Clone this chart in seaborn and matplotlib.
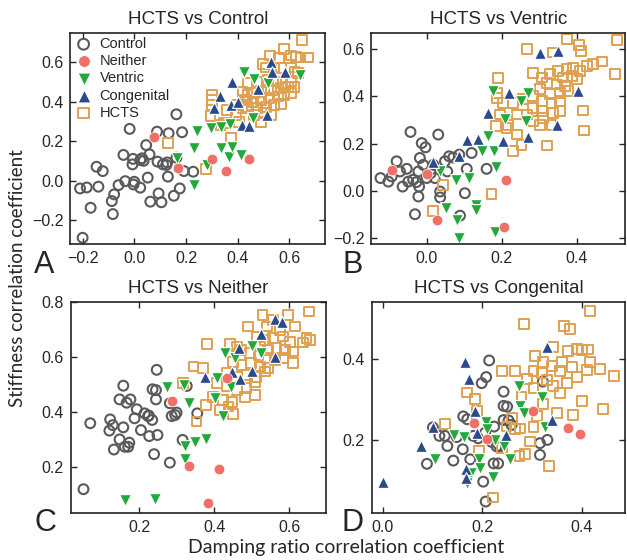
import numpy as np
import pandas as pd
import seaborn as sns
import matplotlib.pyplot as plt

# ---- panel A: HCTS vs Control ----
a_control_x = [-0.21, -0.184, -0.139, -0.169, -0.146, -0.122, -0.087, -0.078, -0.083, -0.2, -0.061, -0.042,
               -0.035, -0.003, 0.0, -0.007, 0.023, -0.005, 0.03, 0.036, 0.046, 0.059, 0.052, 0.062, 0.09, 0.094,
               0.105, 0.124, 0.13, 0.127, 0.153, 0.176, 0.163, 0.185, 0.133, 0.088, -0.018, 0.163, 0.228, 0.192,
               0.111, 0.023]
a_control_y = [-0.04, -0.035, -0.031, -0.138, 0.07, 0.048, -0.104, -0.07, -0.17, -0.29, -0.023, 0.13,
               -0.003, -0.02, -0.006, 0.082, -0.036, 0.11, 0.113, 0.1, 0.18, 0.133, 0.015, -0.107, 0.096, -0.065,
               -0.11, 0.079, 0.02, 0.092, -0.077, -0.04, 0.336, 0.245, 0.24, 0.248, 0.262, 0.116, 0.045, 0.048,
               0.082, 0.104]
a_neither_x = [0.078, 0.168, 0.302, 0.356, 0.445]
a_neither_y = [0.223, 0.065, 0.108, 0.050, 0.109]
a_ventric_x = [0.419, 0.643, 0.241, 0.295, 0.334, 0.370, 0.231, 0.231, 0.166, 0.283, 0.334, 0.367, 0.380,
               0.412, 0.458, 0.464, 0.516, 0.423]
a_ventric_y = [0.549, 0.536, 0.251, 0.265, 0.273, 0.285, 0.167, -0.023, 0.113, 0.079, 0.163, 0.121, 0.172,
               0.130, 0.319, 0.515, 0.493, 0.553]
a_congen_x = [0.529, 0.583, 0.532, 0.380, 0.332, 0.308, 0.376, 0.402, 0.477, 0.415, 0.445, 0.512]
a_congen_y = [0.603, 0.553, 0.549, 0.502, 0.431, 0.367, 0.383, 0.397, 0.465, 0.282, 0.279, 0.333]
a_hcts_x = [0.648, 0.578, 0.526, 0.561, 0.607, 0.626, 0.643, 0.672, 0.497, 0.509, 0.542, 0.568, 0.607, 0.620,
            0.635, 0.438, 0.477, 0.516, 0.548, 0.574, 0.607, 0.419, 0.438, 0.464, 0.490, 0.516, 0.542, 0.568,
            0.594, 0.620, 0.428, 0.458, 0.490, 0.522, 0.555, 0.581, 0.607, 0.438, 0.477, 0.509, 0.542, 0.568,
            0.464, 0.503, 0.529, 0.490, 0.302, 0.302, 0.295, 0.358, 0.393, 0.406, 0.347, 0.373, 0.276, 0.129,
            0.334, 0.399, 0.419, 0.302]
a_hcts_y = [0.713, 0.668, 0.634, 0.620, 0.634, 0.625, 0.624, 0.624, 0.590, 0.573, 0.573, 0.570, 0.573, 0.553,
            0.544, 0.493, 0.502, 0.510, 0.502, 0.493, 0.502, 0.451, 0.434, 0.443, 0.451, 0.460, 0.460, 0.468,
            0.476, 0.476, 0.409, 0.400, 0.409, 0.417, 0.426, 0.434, 0.443, 0.375, 0.367, 0.375, 0.383, 0.387,
            0.333, 0.341, 0.333, 0.299, 0.434, 0.383, 0.329, 0.358, 0.333, 0.299, 0.290, 0.214, 0.059, 0.189,
            0.282, 0.383, 0.367, 0.409]

# ---- panel B: HCTS vs Ventric ----
b_control_x = [-0.123, -0.102, -0.08, -0.064, -0.053, -0.043, -0.049, -0.036, -0.027, -0.022, -0.031, -0.018,
               -0.013, -0.003, 0.031, -0.02, 0.0, 0.011, 0.022, 0.036, 0.036, 0.049, 0.06, 0.071, 0.087, 0.102,
               0.089, 0.107, 0.12, 0.16, -0.009, 0.018, 0.055, -0.093, -0.071, -0.022]
b_control_y = [0.055, 0.04, 0.126, 0.019, 0.094, 0.25, 0.04, 0.048, 0.038, -0.023, -0.098, 0.14,
               0.203, 0.185, 0.239, 0.019, 0.055, 0.076, 0.055, -0.002, -0.027, 0.126, 0.147, 0.142, 0.154, -0.009,
               -0.104, 0.094, 0.161, 0.094, 0.111, 0.111, 0.083, 0.062, 0.083, 0.083]
b_neither_x = [-0.092, 0.002, 0.028, 0.212, 0.206]
b_neither_y = [0.09, 0.072, -0.122, 0.045, -0.151]
b_ventric_x = [0.178, 0.271, 0.253, 0.209, 0.265, 0.164, 0.149, 0.18, 0.185, 0.036, 0.078, 0.114, 0.052,
               0.08, 0.133, 0.087, 0.182, 0.132]
b_ventric_y = [0.423, 0.416, 0.383, 0.303, 0.298, 0.232, 0.168, 0.168, 0.1, 0.083, 0.048, 0.055, -0.073,
               -0.122, -0.059, -0.197, -0.172, -0.08]
b_congen_x = [0.302, 0.351, 0.22, 0.404, 0.164, 0.347, 0.271, 0.203, 0.108, 0.138, 0.087, 0.018]
b_congen_y = [0.586, 0.593, 0.416, 0.423, 0.331, 0.278, 0.227, 0.21, 0.218, 0.222, 0.147, 0.123]
b_hcts_x = [0.375, 0.267, 0.336, 0.407, 0.411, 0.507, 0.191, 0.467, 0.444, 0.502, 0.418, 0.420, 0.322, 0.231,
            0.253, 0.173, 0.043, 0.016, 0.185, 0.213, 0.284, 0.307, 0.329, 0.351, 0.373, 0.391, 0.409, 0.427,
            0.364, 0.387, 0.400, 0.320, 0.347, 0.369, 0.302, 0.329, 0.356, 0.378, 0.284, 0.307, 0.333, 0.356,
            0.187, 0.204, 0.231, 0.258, 0.284, 0.307, 0.338, 0.356, 0.240, 0.267, 0.196, 0.218, 0.284, 0.311,
            0.240, 0.333, 0.302, 0.187]
b_hcts_y = [0.642, 0.600, 0.586, 0.618, 0.593, 0.638, 0.477, 0.548, 0.539, 0.494, 0.341, 0.256, 0.193, 0.168,
            0.196, -0.013, 0.026, -0.084, 0.274, 0.267, 0.501, 0.480, 0.494, 0.508, 0.515, 0.522, 0.508, 0.529,
            0.480, 0.487, 0.473, 0.458, 0.451, 0.444, 0.430, 0.409, 0.416, 0.423, 0.402, 0.380, 0.373, 0.380,
            0.416, 0.373, 0.373, 0.388, 0.352, 0.338, 0.331, 0.338, 0.324, 0.324, 0.324, 0.281, 0.295, 0.310,
            0.239, 0.281, 0.281, 0.394]

# ---- panel C: HCTS vs Neither ----
c_control_x = [0.052, 0.07, 0.123, 0.13, 0.121, 0.133, 0.148, 0.158, 0.148, 0.167, 0.177, 0.158, 0.162,
               0.171, 0.174, 0.188, 0.194, 0.205, 0.215, 0.224, 0.227, 0.236, 0.245, 0.245, 0.247, 0.249,
               0.24, 0.226, 0.235, 0.282, 0.287, 0.296, 0.3, 0.316, 0.355, 0.327, 0.282]
c_control_y = [0.118, 0.359, 0.373, 0.352, 0.332, 0.263, 0.3, 0.344, 0.446, 0.434, 0.446, 0.496, 0.273,
               0.273, 0.288, 0.377, 0.41, 0.334, 0.395, 0.385, 0.312, 0.483, 0.48, 0.446, 0.554, 0.316,
               0.246, 0.387, 0.371, 0.215, 0.385, 0.389, 0.398, 0.298, 0.395, 0.495, 0.432]
c_neither_x = [0.289, 0.334, 0.414, 0.384, 0.433]
c_neither_y = [0.441, 0.202, 0.19, 0.068, 0.523]
c_ventric_x = [0.163, 0.243, 0.274, 0.32, 0.334, 0.322, 0.349, 0.378, 0.323, 0.402, 0.423, 0.407, 0.429,
               0.502, 0.526, 0.455, 0.446]
c_ventric_y = [0.08, 0.084, 0.49, 0.499, 0.434, 0.276, 0.291, 0.3, 0.227, 0.45, 0.385, 0.523, 0.615,
               0.641, 0.615, 0.596, 0.49]
c_congen_x = [0.562, 0.58, 0.526, 0.467, 0.562, 0.502, 0.468, 0.448, 0.376]
c_congen_y = [0.739, 0.73, 0.685, 0.633, 0.602, 0.551, 0.52, 0.547, 0.527]
c_hcts_x = [0.529, 0.597, 0.653, 0.491, 0.380, 0.345, 0.371, 0.316, 0.378, 0.353, 0.451, 0.509, 0.611, 0.637,
            0.615, 0.557, 0.575, 0.540, 0.513, 0.535, 0.557, 0.584, 0.602, 0.522, 0.544, 0.566, 0.588, 0.611,
            0.473, 0.495, 0.518, 0.540, 0.562, 0.584, 0.451, 0.473, 0.498, 0.522, 0.544, 0.433, 0.460, 0.486,
            0.513, 0.535, 0.407, 0.433, 0.460, 0.486, 0.509, 0.398, 0.424, 0.447, 0.416, 0.438, 0.482, 0.646,
            0.655, 0.442, 0.460]
c_hcts_y = [0.755, 0.755, 0.767, 0.712, 0.649, 0.566, 0.560, 0.507, 0.426, 0.365, 0.393, 0.462, 0.578, 0.654,
            0.712, 0.737, 0.700, 0.712, 0.676, 0.663, 0.670, 0.676, 0.657, 0.639, 0.627, 0.633, 0.627, 0.621,
            0.627, 0.615, 0.609, 0.596, 0.590, 0.596, 0.584, 0.572, 0.578, 0.566, 0.560, 0.541, 0.529, 0.535,
            0.529, 0.548, 0.505, 0.493, 0.480, 0.487, 0.511, 0.456, 0.444, 0.438, 0.407, 0.420, 0.456, 0.670,
            0.663, 0.649, 0.639]

# ---- panel D: HCTS vs Congenital ----
d_control_x = [0.214, 0.208, 0.199, 0.243, 0.243, 0.250, 0.162, 0.170, 0.101, 0.125, 0.130, 0.142, 0.089,
               0.161, 0.176, 0.192, 0.206, 0.224, 0.235, 0.223, 0.232, 0.243, 0.253, 0.259, 0.202, 0.207,
               0.316, 0.331, 0.316, 0.322, 0.114, 0.149, 0.229, 0.182, 0.219]
d_control_y = [0.396, 0.355, 0.340, 0.319, 0.284, 0.282, 0.258, 0.251, 0.231, 0.210, 0.185, 0.149, 0.141,
               0.177, 0.152, 0.204, 0.218, 0.233, 0.184, 0.142, 0.142, 0.249, 0.248, 0.237, 0.097, 0.048,
               0.192, 0.200, 0.163, 0.344, 0.210, 0.207, 0.184, 0.210, 0.195]
d_neither_x = [0.184, 0.209, 0.303, 0.373, 0.397]
d_neither_y = [0.241, 0.202, 0.272, 0.229, 0.215]
d_ventric_x = [0.105, 0.143, 0.163, 0.208, 0.210, 0.226, 0.243, 0.255, 0.194, 0.196, 0.221, 0.178, 0.169,
               0.273, 0.275, 0.283, 0.320, 0.326]
d_ventric_y = [0.152, 0.212, 0.208, 0.243, 0.226, 0.200, 0.184, 0.152, 0.152, 0.130, 0.108, 0.118, 0.093,
               0.333, 0.284, 0.267, 0.305, 0.233]
d_congen_x = [0.0, 0.078, 0.101, 0.166, 0.174, 0.186, 0.189, 0.248, 0.168, 0.168, 0.331, 0.340]
d_congen_y = [0.097, 0.185, 0.231, 0.391, 0.350, 0.272, 0.217, 0.212, 0.128, 0.105, 0.429, 0.248]
d_hcts_x = [0.417, 0.284, 0.364, 0.376, 0.343, 0.373, 0.390, 0.400, 0.413, 0.417, 0.437, 0.464, 0.306, 0.322,
            0.340, 0.360, 0.356, 0.239, 0.266, 0.303, 0.330, 0.343, 0.356, 0.390, 0.400, 0.442, 0.351, 0.383,
            0.169, 0.186, 0.189, 0.125, 0.194, 0.249, 0.266, 0.276, 0.303, 0.296, 0.286, 0.275, 0.335, 0.222,
            0.303, 0.279, 0.322, 0.380, 0.410, 0.320, 0.290, 0.370, 0.260, 0.240, 0.310]
d_hcts_y = [0.517, 0.486, 0.481, 0.473, 0.430, 0.420, 0.425, 0.422, 0.423, 0.393, 0.374, 0.358, 0.406, 0.393,
            0.383, 0.393, 0.369, 0.369, 0.369, 0.369, 0.348, 0.332, 0.315, 0.356, 0.295, 0.276, 0.267, 0.262,
            0.317, 0.300, 0.272, 0.240, 0.174, 0.233, 0.226, 0.228, 0.231, 0.196, 0.165, 0.160, 0.136, 0.058,
            0.328, 0.307, 0.289, 0.380, 0.372, 0.365, 0.350, 0.340, 0.255, 0.180, 0.260]

groups = ['Control', 'Neither', 'Ventric', 'Congenital', 'HCTS']
colors = {'Control': '#5a5a5a', 'Neither': '#f07068', 'Ventric': '#23a83c',
          'Congenital': '#2b4a8c', 'HCTS': '#e0a050'}

panels = [
    ('HCTS vs Control', 'A', a_control_x, a_control_y, a_neither_x, a_neither_y, a_ventric_x, a_ventric_y,
     a_congen_x, a_congen_y, a_hcts_x, a_hcts_y),
    ('HCTS vs Ventric', 'B', b_control_x, b_control_y, b_neither_x, b_neither_y, b_ventric_x, b_ventric_y,
     b_congen_x, b_congen_y, b_hcts_x, b_hcts_y),
    ('HCTS vs Neither', 'C', c_control_x, c_control_y, c_neither_x, c_neither_y, c_ventric_x, c_ventric_y,
     c_congen_x, c_congen_y, c_hcts_x, c_hcts_y),
    ('HCTS vs Congenital', 'D', d_control_x, d_control_y, d_neither_x, d_neither_y, d_ventric_x, d_ventric_y,
     d_congen_x, d_congen_y, d_hcts_x, d_hcts_y),
]

xticks = [[-0.2, 0.0, 0.2, 0.4, 0.6], [0.0, 0.2, 0.4], [0.2, 0.4, 0.6], [0.0, 0.2, 0.4]]
yticks = [[-0.2, 0.0, 0.2, 0.4, 0.6], [-0.2, 0.0, 0.2, 0.4, 0.6], [0.2, 0.4, 0.6, 0.8], [0.2, 0.4]]
xlims = [(-0.247, 0.740), (-0.147, 0.529), (0.018, 0.698), (-0.022, 0.487)]
ylims = [(-0.323, 0.750), (-0.225, 0.670), (0.030, 0.803), (0.019, 0.541)]

sns.set_style('ticks')
plt.rcParams['font.family'] = ['Liberation Sans', 'DejaVu Sans']
plt.rcParams['axes.unicode_minus'] = True

fig = plt.figure(figsize=(6.27, 5.6), dpi=100)
positions = [[0.1124, 0.5638, 0.4067, 0.3779], [0.5925, 0.5638, 0.4043, 0.3779],
             [0.1128, 0.0834, 0.4072, 0.3779], [0.5928, 0.0834, 0.4041, 0.3779]]
letter_pos = [(0.070, 0.527), (0.562, 0.527), (0.072, 0.066), (0.562, 0.066)]

for i, p in enumerate(panels):
    title, letter = p[0], p[1]
    ax = fig.add_axes(positions[i])
    df = pd.DataFrame({
        'x': list(p[2]) + list(p[4]) + list(p[6]) + list(p[8]) + list(p[10]),
        'y': list(p[3]) + list(p[5]) + list(p[7]) + list(p[9]) + list(p[11]),
        'group': ['Control'] * len(p[2]) + ['Neither'] * len(p[4]) + ['Ventric'] * len(p[6])
                 + ['Congenital'] * len(p[8]) + ['HCTS'] * len(p[10]),
    })
    # open markers first, filled ones on top
    d = df[df.group == 'Control']
    sns.scatterplot(x='x', y='y', data=d, ax=ax, marker='o', s=50, color=colors['Control'],
                    facecolor='none', edgecolor=colors['Control'], linewidth=1.5, label='Control', legend=False)
    d = df[df.group == 'HCTS']
    sns.scatterplot(x='x', y='y', data=d, ax=ax, marker='s', s=50, color=colors['HCTS'],
                    facecolor='none', edgecolor=colors['HCTS'], linewidth=1.4, label='HCTS', legend=False)
    d = df[df.group == 'Ventric']
    sns.scatterplot(x='x', y='y', data=d, ax=ax, marker='v', s=72, color=colors['Ventric'],
                    edgecolor='white', linewidth=0.8, label='Ventric', legend=False)
    d = df[df.group == 'Congenital']
    sns.scatterplot(x='x', y='y', data=d, ax=ax, marker='^', s=72, color=colors['Congenital'],
                    edgecolor='white', linewidth=0.8, label='Congenital', legend=False)
    d = df[df.group == 'Neither']
    sns.scatterplot(x='x', y='y', data=d, ax=ax, marker='o', s=58, color=colors['Neither'],
                    edgecolor='white', linewidth=0.5, label='Neither', legend=False)

    ax.set_xlim(xlims[i])
    ax.set_ylim(ylims[i])
    ax.set_xticks(xticks[i])
    ax.set_yticks(yticks[i])
    ax.set_xticklabels([f'{v:.1f}'.replace('-', '\u2212') for v in xticks[i]])
    ax.set_yticklabels([f'{v:.1f}'.replace('-', '\u2212') for v in yticks[i]])
    ax.tick_params(direction='in', top=True, right=True, length=4, width=1, labelsize=11.5, pad=5)
    ax.set_xlabel('')
    ax.set_ylabel('')
    for s in ax.spines.values():
        s.set_linewidth(1.2)
        s.set_color('#222222')
    ax.set_title(title, fontsize=13.5, pad=6)
    fig.text(letter_pos[i][0], letter_pos[i][1], letter, fontsize=22, ha='center', va='center')

    if i == 0:
        h, l = ax.get_legend_handles_labels()
        order = [l.index(g) for g in groups]
        ax.legend([h[k] for k in order], [l[k] for k in order], loc='upper left', frameon=False,
                  fontsize=10.5, labelspacing=0.22, handletextpad=0.5, borderaxespad=0.15,
                  borderpad=0.15, handlelength=1.2, markerscale=1.1)

fig.text(0.552, 0.022, 'Damping ratio correlation coefficient', fontsize=14, ha='center', va='center',
         family=['Lato', 'DejaVu Sans'])
fig.text(0.028, 0.504, 'Stiffness correlation coefficient', fontsize=13.5, ha='center', va='center',
         rotation=90, family=['Lato', 'DejaVu Sans'])

fig.savefig('out.png', dpi=100)
